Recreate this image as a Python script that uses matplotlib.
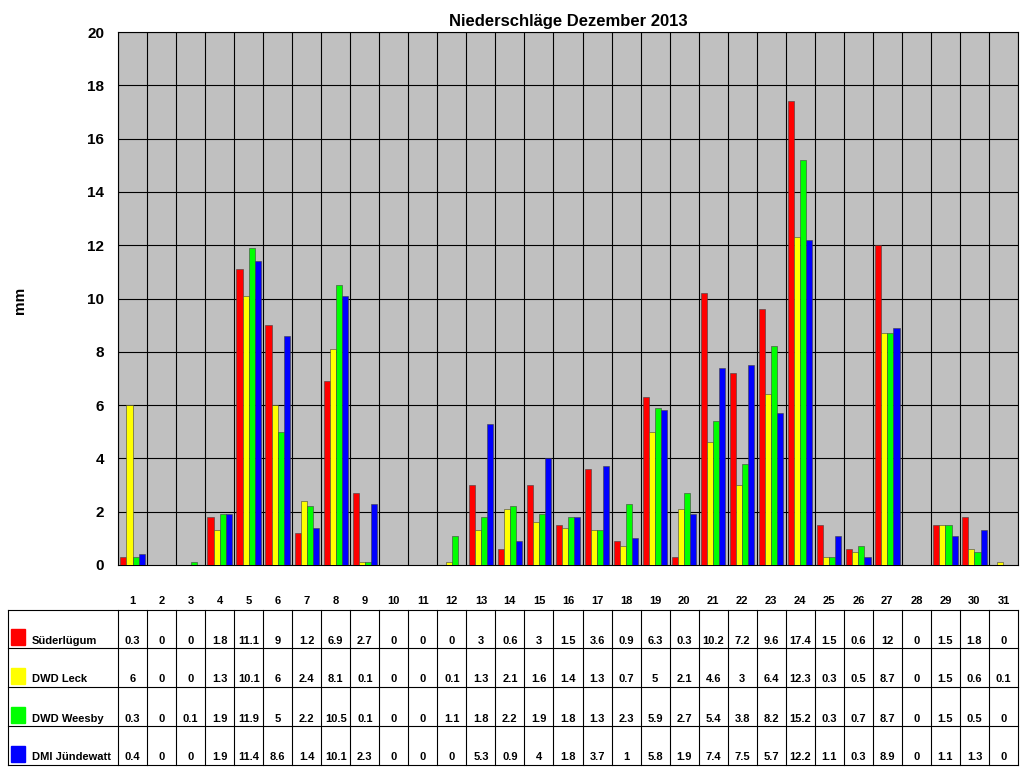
import matplotlib
matplotlib.use("Agg")
import matplotlib.pyplot as plt
import numpy as np

plt.rcParams['font.family'] = ['Liberation Sans', 'DejaVu Sans']

days = list(range(1, 32))
series_names = ["Süderlügum", "DWD Leck", "DWD Weesby", "DMI Jündewatt"]
suederluegum = [0.3,0,0,1.8,11.1,9,1.2,6.9,2.7,0,0,0,3,0.6,3,1.5,3.6,0.9,6.3,0.3,10.2,7.2,9.6,17.4,1.5,0.6,12,0,1.5,1.8,0]
leck = [6,0,0,1.3,10.1,6,2.4,8.1,0.1,0,0,0.1,1.3,2.1,1.6,1.4,1.3,0.7,5,2.1,4.6,3,6.4,12.3,0.3,0.5,8.7,0,1.5,0.6,0.1]
weesby = [0.3,0,0.1,1.9,11.9,5,2.2,10.5,0.1,0,0,1.1,1.8,2.2,1.9,1.8,1.3,2.3,5.9,2.7,5.4,3.8,8.2,15.2,0.3,0.7,8.7,0,1.5,0.5,0]
juendewatt = [0.4,0,0,1.9,11.4,8.6,1.4,10.1,2.3,0,0,0,5.3,0.9,4,1.8,3.7,1,5.8,1.9,7.4,7.5,5.7,12.2,1.1,0.3,8.9,0,1.1,1.3,0]
series = [suederluegum, leck, weesby, juendewatt]
colors = ["#FF0000", "#FFFF00", "#00FF00", "#0000FF"]

fig = plt.figure(figsize=(10.24, 7.68), dpi=100)
W, H = 1024, 768
L, R, T, B = 118, 1018, 32, 565
ax = fig.add_axes([L/W, 1-B/H, (R-L)/W, (B-T)/H])
ax.set_facecolor("#C0C0C0")
x = np.arange(len(days))
bw = 0.21
for i, (s, c) in enumerate(zip(series, colors)):
    ax.bar(x + (i - 1.5)*bw, s, width=bw, color=c, zorder=3,
           edgecolor="#404040", linewidth=0.4)
ax.set_xlim(-0.5, len(days)-0.5)
ax.set_ylim(0, 20)
ax.set_yticks(range(0, 21, 2))
ax.set_yticklabels([str(v) for v in range(0, 21, 2)], fontsize=11, fontweight="bold")
ax.set_xticks(x)
ax.set_xticklabels([str(d) for d in days], fontsize=8, fontweight="bold")
ax.tick_params(axis="x", length=0, pad=22)
ax.tick_params(axis="y", length=0, pad=10)
for xi in np.arange(-0.5, len(days), 1):
    ax.axvline(xi, color="black", lw=0.8, zorder=1)
for yv in range(2, 21, 2):
    ax.axhline(yv, color="black", lw=0.8, zorder=1)
fig.text(20/W, 1-300/H, "mm", rotation=90, fontsize=11, fontweight="bold", ha="center", va="center")
ax.set_title("Niederschläge Dezember 2013", fontsize=12, fontweight="bold", pad=4)
for sp in ax.spines.values():
    sp.set_color("black")

# table
tab_top, tab_bot = 610, 765
rows = [610, 648, 687, 726, 765]
cw = (R-L)/len(days)
def fx(px): return px/W
def fy(py): return 1-py/H
lw = 0.8
fig.add_artist(plt.Line2D([fx(8), fx(8)], [fy(tab_top), fy(tab_bot)], color="black", lw=lw))
for k in range(len(days)+1):
    xx = L + k*cw
    fig.add_artist(plt.Line2D([fx(xx), fx(xx)], [fy(tab_top), fy(tab_bot)], color="black", lw=lw))
for ry in rows:
    fig.add_artist(plt.Line2D([fx(8), fx(R)], [fy(ry), fy(ry)], color="black", lw=lw))
for r, (name, s, c) in enumerate(zip(series_names, series, colors)):
    ycen = (rows[r] + rows[r+1]) / 2 + 12
    fig.add_artist(plt.Rectangle((fx(11), fy(ycen+4)), 14/W, 16/H, color=c))
    fig.text(fx(32), fy(ycen), name, fontsize=8, fontweight="bold", va="center")
    for k, v in enumerate(s):
        fig.text(fx(L + (k+0.5)*cw), fy(ycen), f"{v:g}", fontsize=8, fontweight="bold",
                 ha="center", va="center")

fig.savefig("out.png", dpi=100)
